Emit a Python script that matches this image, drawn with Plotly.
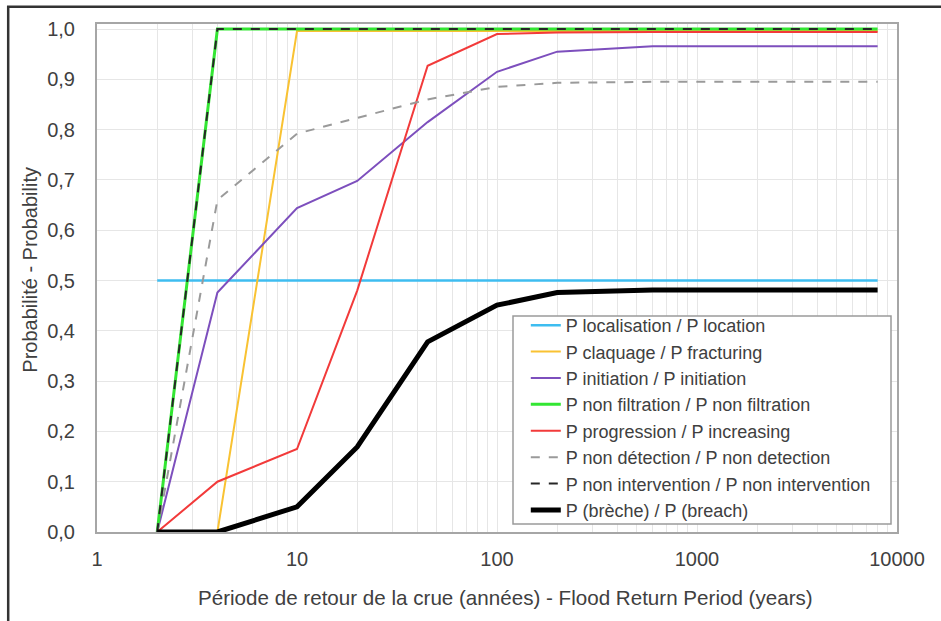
import plotly.graph_objects as go

return_period = [2, 4, 10, 20, 45, 100, 200, 600, 8000]

p_location = [0.5, 0.5, 0.5, 0.5, 0.5, 0.5, 0.5, 0.5, 0.5]
p_fracturing = [0.0, 0.0, 0.996, 0.996, 0.996, 0.996, 0.996, 0.996, 0.996]
p_initiation = [0.0, 0.476, 0.644, 0.698, 0.815, 0.915, 0.955, 0.966, 0.966]
p_non_filtration = [0.0, 1.0, 1.0, 1.0, 1.0, 1.0, 1.0, 1.0, 1.0]
p_increasing = [0.0, 0.10, 0.165, 0.48, 0.927, 0.99, 0.993, 0.994, 0.994]
p_non_detection = [0.0, 0.66, 0.792, 0.823, 0.86, 0.885, 0.893, 0.895, 0.895]
p_non_intervention = [0.0, 1.0, 1.0, 1.0, 1.0, 1.0, 1.0, 1.0, 1.0]
p_breach = [0.0, 0.0, 0.05, 0.169, 0.378, 0.451, 0.476, 0.481, 0.481]

y_ticks = [0.0, 0.1, 0.2, 0.3, 0.4, 0.5, 0.6, 0.7, 0.8, 0.9, 1.0]
x_ticks = [1, 10, 100, 1000, 10000]

x_title = "Période de retour de la crue (années) - Flood Return Period (years)"
y_title = "Probabilité - Probability"

series = [
    ("P localisation / P location", p_location, "#3ebdf0", 2.5, "solid"),
    ("P claquage / P fracturing", p_fracturing, "#f9c232", 2, "solid"),
    ("P initiation / P initiation", p_initiation, "#7d4fbd", 2, "solid"),
    ("P non filtration / P non filtration", p_non_filtration, "#33e633", 3, "solid"),
    ("P progression / P increasing", p_increasing, "#f23a3a", 2, "solid"),
    ("P non détection / P non detection", p_non_detection, "#9a9a9a", 2, "dash"),
    ("P non intervention / P non intervention", p_non_intervention, "#262626", 2, "dash"),
    ("P (brèche) / P (breach)", p_breach, "#000000", 5, "solid"),
]

fig = go.Figure()
for name, vals, color, width, dash in series:
    fig.add_trace(go.Scatter(
        x=return_period, y=vals, name=name, mode="lines",
        line=dict(color=color, width=width, dash=dash),
    ))

font_family = "Liberation Sans, Arial, sans-serif"
grid_c = "#e6e6e6"
text_c = "#404040"

fig.update_layout(
    width=941, height=621,
    margin=dict(l=97, r=44, t=24, b=89),
    paper_bgcolor="white", plot_bgcolor="white",
    separators=",.",
    font=dict(family=font_family, size=16, color=text_c),
    showlegend=True,
    legend=dict(
        x=0.536, y=0.443, xanchor="left", yanchor="top",
        bgcolor="rgba(0,0,0,0)", bordercolor="rgba(0,0,0,0)", borderwidth=0,
        font=dict(size=18, color=text_c),
        tracegroupgap=0, itemwidth=30,
    ),
    xaxis=dict(
        type="log", range=[0, 4],
        tickvals=x_ticks, ticktext=[str(v) for v in x_ticks],
        showgrid=True, gridcolor=grid_c, gridwidth=1,
        minor=dict(dtick="D1", showgrid=True, gridcolor=grid_c, gridwidth=1),
        showline=True, linecolor="#a6a6a6", linewidth=2, mirror=True,
        ticks="", ticklabelstandoff=8, zeroline=False,
        tickfont=dict(size=20, color=text_c),
        automargin=False,
    ),
    yaxis=dict(
        range=[0, 1.01],
        tickvals=y_ticks, tickformat=".1f",
        showgrid=True, gridcolor=grid_c, gridwidth=1,
        showline=True, linecolor="#a6a6a6", linewidth=2, mirror=True,
        ticks="", ticklabelstandoff=16, zeroline=False,
        tickfont=dict(size=20, color=text_c),
        automargin=False,
    ),
    annotations=[
        dict(text=x_title, xref="paper", yref="paper", x=0.511, y=-0.128,
             xanchor="center", yanchor="middle", showarrow=False,
             font=dict(size=20.6, color=text_c)),
        dict(text=y_title, xref="paper", yref="paper", x=-0.084, y=0.516,
             xanchor="center", yanchor="middle", showarrow=False, textangle=-90,
             font=dict(size=20, color=text_c)),
    ],
    shapes=[
        dict(type="rect", xref="paper", yref="paper",
             x0=-0.111, x1=1.07, y0=-0.2, y1=1.034,
             line=dict(color="#333333", width=2.5), fillcolor="rgba(0,0,0,0)",
             layer="below"),
        dict(type="rect", xref="paper", yref="paper",
             x0=0.52, x1=0.9925, y0=0.0157, y1=0.4252,
             line=dict(color="#9a9a9a", width=1.5), fillcolor="white",
             layer="above"),
    ],
)

fig.write_html(
    "out.html",
    config={"displayModeBar": False},
    post_script="document.body.style.margin='0';document.body.style.overflow='hidden';",
)
